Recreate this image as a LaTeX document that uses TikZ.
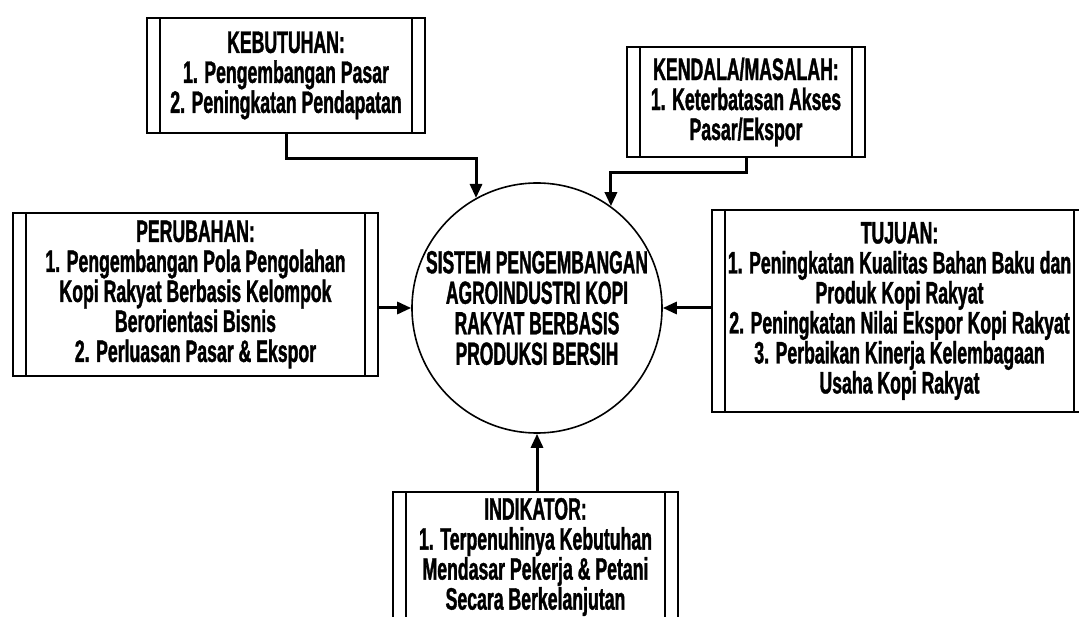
\documentclass[tikz,border=0pt]{standalone}
\usepackage{fontspec}
\setmainfont{Liberation Sans}[FakeStretch=0.57, BoldFeatures={FakeBold=1.2}]
\newfontfamily\circfont{Liberation Sans}[FakeStretch=0.545, BoldFeatures={FakeBold=1.2}]
\usetikzlibrary{arrows.meta}
\tikzset{
  procbox/.style={draw=black, line width=1.8pt, inner sep=0pt, align=center,
    font=\bfseries\fontsize{31}{30}\selectfont,
    append after command={\pgfextra{\let\boxn\tikzlastnode}
      ([xshift=14pt]\boxn.north west) edge[line width=1.6pt] ([xshift=14pt]\boxn.south west)
      ([xshift=-14pt]\boxn.north east) edge[line width=1.6pt] ([xshift=-14pt]\boxn.south east)}},
  sysnode/.style={draw=black, circle, line width=1.6pt, inner sep=0pt, align=center,
    minimum size=250pt, font=\circfont\bfseries\fontsize{32}{30.5}\selectfont},
  conn/.style={line width=3pt, -{Triangle[length=14pt,width=12pt]}},
}
\begin{document}
\begin{tikzpicture}[x=1pt, y=-1pt]
\clip (0,0) rectangle (1079,617);
\fill[white] (0,0) rectangle (1079,617);

\node[procbox, minimum width=278pt, minimum height=115pt] (keb) at (286,75.5)
  {KEBUTUHAN:\\1. Pengembangan Pasar\\2. Peningkatan Pendapatan};
\node[procbox, minimum width=238pt, minimum height=110pt] (ken) at (746,102)
  {KENDALA/MASALAH:\\1. Keterbatasan Akses\\Pasar/Ekspor};
\node[procbox, minimum width=365pt, minimum height=163pt] (per) at (195.5,294.5)
  {PERUBAHAN:\\1. Pengembangan Pola Pengolahan\\Kopi Rakyat Berbasis Kelompok\\Berorientasi Bisnis\\2. Perluasan Pasar \& Ekspor};
\node[procbox, minimum width=375pt, minimum height=202pt] (tuj) at (899.5,311)
  {TUJUAN:\\1. Peningkatan Kualitas Bahan Baku dan\\Produk Kopi Rakyat\\2. Peningkatan Nilai Ekspor Kopi Rakyat\\3. Perbaikan Kinerja Kelembagaan\\Usaha Kopi Rakyat};
\node[procbox, minimum width=285pt, minimum height=130pt] (ind) at (535.5,557)
  {INDIKATOR:\\1. Terpenuhinya Kebutuhan\\Mendasar Pekerja \& Petani\\Secara Berkelanjutan};
\node[sysnode] (sys) at (537,308)
  {SISTEM PENGEMBANGAN\\AGROINDUSTRI KOPI\\RAKYAT BERBASIS\\PRODUKSI BERSIH};

\draw[conn] (keb.south) -- ++(0,25) -| (sys.119.7);
\draw[conn] (ken.south) -- ++(0,15) -| (sys.54.3);
\draw[conn] (sys.west -| per.east) -- (sys.west);
\draw[conn] (sys.east -| tuj.west) -- (sys.east);
\draw[conn] (sys.south |- ind.north) -- (sys.south);
\end{tikzpicture}
\end{document}
